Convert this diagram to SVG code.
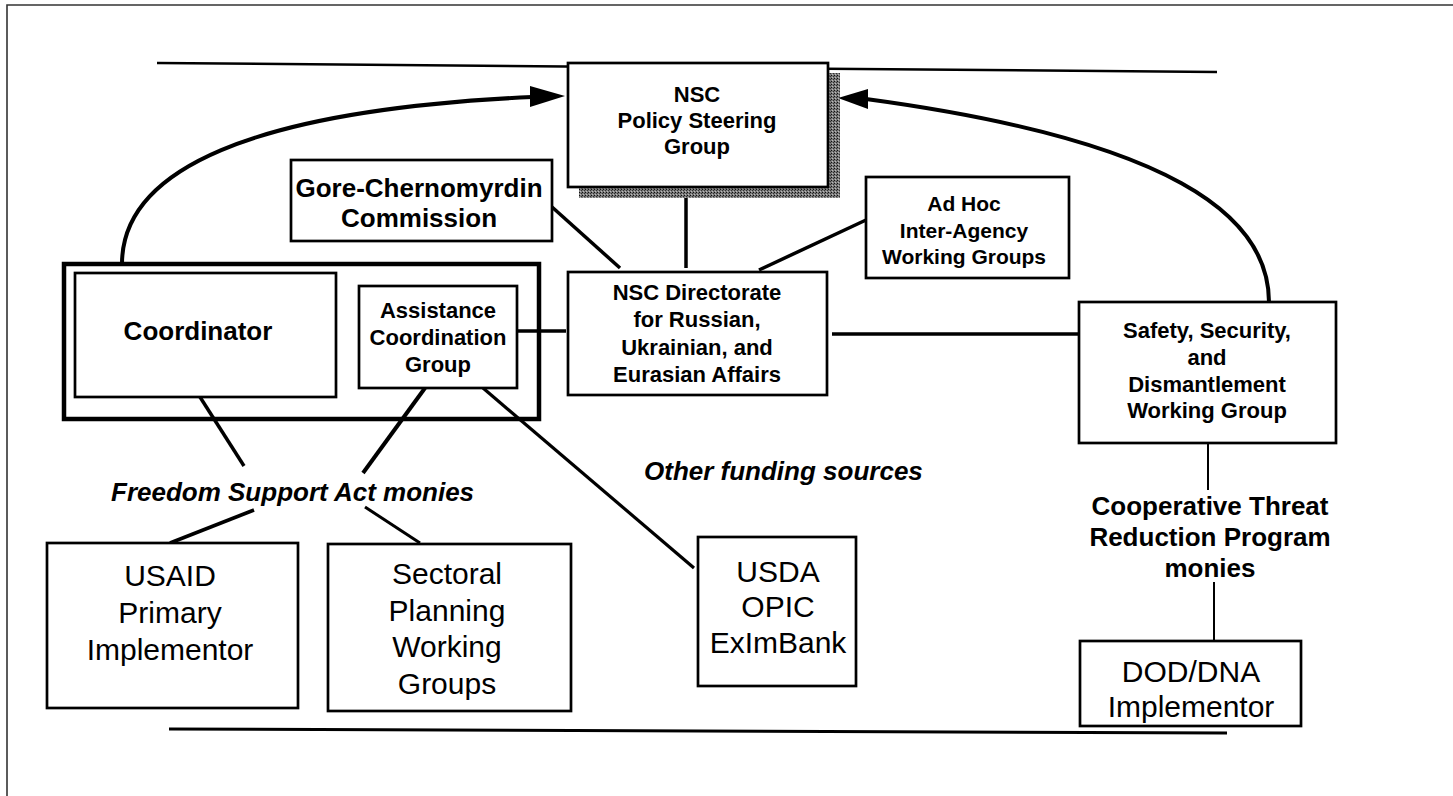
<svg xmlns="http://www.w3.org/2000/svg" width="1453" height="796" viewBox="0 0 1453 796">
<style>
.box{fill:#fff;stroke:#000;stroke-width:2.7}
.b{font-family:"Liberation Sans",Arial,Helvetica,sans-serif;font-weight:bold;text-anchor:middle;fill:#000}
.r{font-family:"Liberation Sans",Arial,Helvetica,sans-serif;font-weight:normal;text-anchor:middle;fill:#000}
.bi{font-family:"Liberation Sans",Arial,Helvetica,sans-serif;font-weight:bold;font-style:italic;fill:#000}
.ln{stroke:#000;fill:none;stroke-linecap:butt}
</style>
<defs>
<pattern id="dots" width="3" height="3" patternUnits="userSpaceOnUse">
<rect width="3" height="3" fill="#7a7a7a"/>
<rect width="1" height="1" fill="#111"/>
<rect x="2" y="1" width="1" height="1" fill="#333"/>
<rect x="1" y="2" width="1" height="1" fill="#bbb"/>
</pattern>
</defs>
<rect width="1453" height="796" fill="#fff"/>
<g id="frame">
<path d="M7,796 V5 H1453" fill="none" stroke="#333" stroke-width="1.6"/>
<line x1="157" y1="63" x2="1217" y2="72" stroke="#000" stroke-width="2.5"/>
<line x1="169" y1="729" x2="1227" y2="733" stroke="#000" stroke-width="3"/>
</g>
<g id="connectors">
<path class="ln" d="M122,264 C122,170 250,110 532,97" stroke-width="4"/>
<polygon points="565,96 530,86 530,107" fill="#000"/>
<path class="ln" d="M1269,302 C1269,215 1170,140 866,99" stroke-width="4"/>
<polygon points="838,98 868,89 868,109" fill="#000"/>
<line class="ln" x1="686" y1="198" x2="686" y2="268" stroke-width="3.5"/>
<line class="ln" x1="552" y1="207" x2="620" y2="268" stroke-width="3.5"/>
<line class="ln" x1="866" y1="220" x2="759" y2="270" stroke-width="3.5"/>
<line class="ln" x1="517" y1="331" x2="566" y2="331" stroke-width="3.5"/>
<line class="ln" x1="832" y1="334" x2="1079" y2="334" stroke-width="3.5"/>
<line class="ln" x1="200" y1="397" x2="244" y2="466" stroke-width="3.5"/>
<line class="ln" x1="425" y1="388" x2="363" y2="473" stroke-width="4"/>
<line class="ln" x1="483" y1="388" x2="694" y2="568" stroke-width="3.2"/>
<line class="ln" x1="254" y1="510" x2="170" y2="543" stroke-width="3.5"/>
<line class="ln" x1="365" y1="507" x2="420" y2="543" stroke-width="3"/>
<line class="ln" x1="1208" y1="443" x2="1208" y2="490" stroke-width="2"/>
<line class="ln" x1="1214" y1="582" x2="1214" y2="641" stroke-width="2"/>
</g>
<g id="psg">
<rect x="828" y="73" width="12" height="125" fill="url(#dots)"/>
<rect x="579" y="187" width="261" height="11" fill="url(#dots)"/>
<rect class="box" x="568" y="63" width="260" height="124" stroke-width="3"/>
<text class="b" font-size="22" x="697" y="102">NSC</text>
<text class="b" font-size="22" x="697" y="128">Policy Steering</text>
<text class="b" font-size="22" x="697" y="154">Group</text>
</g>
<g id="gore">
<rect class="box" x="291" y="160" width="261" height="81"/>
<text class="b" font-size="26" x="419" y="197">Gore-Chernomyrdin</text>
<text class="b" font-size="26" x="419" y="227">Commission</text>
</g>
<g id="adhoc">
<rect class="box" x="866" y="177" width="203" height="101"/>
<text class="b" font-size="21" x="964" y="211">Ad Hoc</text>
<text class="b" font-size="21" x="964" y="238">Inter-Agency</text>
<text class="b" font-size="21" x="964" y="264">Working Groups</text>
</g>
<g id="container">
<rect x="64" y="264" width="475" height="155" fill="none" stroke="#000" stroke-width="4.5"/>
</g>
<g id="coordinator">
<rect class="box" x="75" y="273" width="261" height="124" stroke-width="3"/>
<text class="b" font-size="26" x="198" y="340">Coordinator</text>
</g>
<g id="acg">
<rect class="box" x="359" y="286" width="158" height="102" stroke-width="3"/>
<text class="b" font-size="22" x="438" y="318">Assistance</text>
<text class="b" font-size="22" x="438" y="345">Coordination</text>
<text class="b" font-size="22" x="438" y="372">Group</text>
</g>
<g id="directorate">
<rect class="box" x="568" y="272" width="259" height="123"/>
<text class="b" font-size="22" x="697" y="300">NSC Directorate</text>
<text class="b" font-size="22" x="697" y="327">for Russian,</text>
<text class="b" font-size="22" x="697" y="355">Ukrainian, and</text>
<text class="b" font-size="22" x="697" y="382">Eurasian Affairs</text>
</g>
<g id="safety">
<rect class="box" x="1079" y="302" width="257" height="141"/>
<text class="b" font-size="22" x="1207" y="338">Safety, Security,</text>
<text class="b" font-size="22" x="1207" y="365">and</text>
<text class="b" font-size="22" x="1207" y="392">Dismantlement</text>
<text class="b" font-size="22" x="1207" y="418">Working Group</text>
</g>
<g id="freedom">
<text class="bi" font-size="26" x="111" y="501">Freedom Support Act monies</text>
</g>
<g id="other">
<text class="bi" font-size="26" x="644" y="480">Other funding sources</text>
</g>
<g id="ctr">
<text class="b" font-size="26" x="1210" y="515">Cooperative Threat</text>
<text class="b" font-size="26" x="1210" y="546">Reduction Program</text>
<text class="b" font-size="26" x="1210" y="577">monies</text>
</g>
<g id="usaid">
<rect class="box" x="47" y="543" width="251" height="165"/>
<text class="r" font-size="30" x="170" y="586">USAID</text>
<text class="r" font-size="30" x="170" y="623">Primary</text>
<text class="r" font-size="30" x="170" y="660">Implementor</text>
</g>
<g id="sectoral">
<rect class="box" x="328" y="544" width="243" height="167"/>
<text class="r" font-size="30" x="447" y="584">Sectoral</text>
<text class="r" font-size="30" x="447" y="621">Planning</text>
<text class="r" font-size="30" x="447" y="657">Working</text>
<text class="r" font-size="30" x="447" y="694">Groups</text>
</g>
<g id="usda">
<rect class="box" x="698" y="537" width="158" height="149"/>
<text class="r" font-size="30" x="778" y="582">USDA</text>
<text class="r" font-size="30" x="778" y="617">OPIC</text>
<text class="r" font-size="30" x="778" y="653">ExImBank</text>
</g>
<g id="dod">
<rect class="box" x="1080" y="641" width="221" height="85"/>
<text class="r" font-size="30" x="1191" y="682">DOD/DNA</text>
<text class="r" font-size="30" x="1191" y="717">Implementor</text>
</g>
</svg>
